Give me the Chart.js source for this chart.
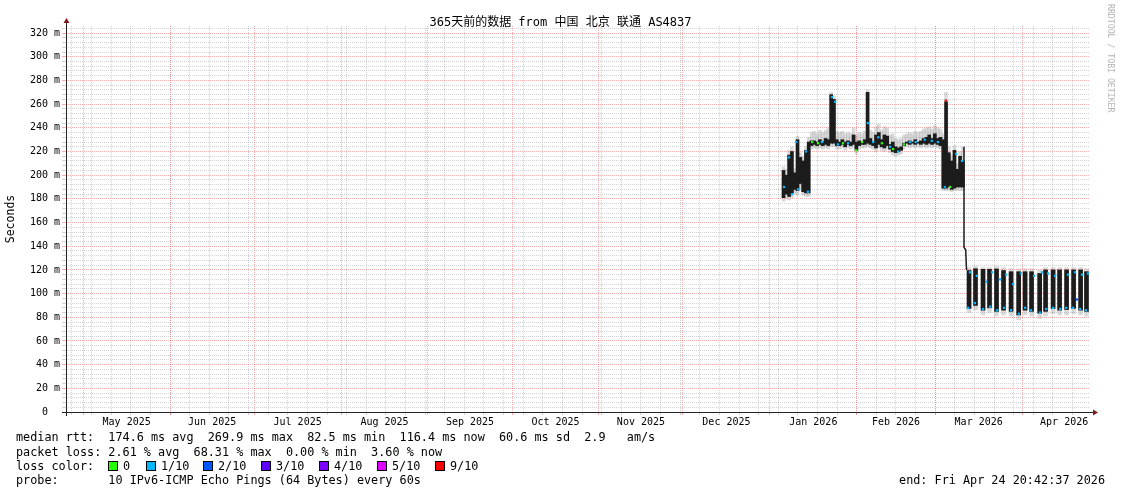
<!DOCTYPE html>
<html>
<head>
<meta charset="utf-8">
<script src="https://cdn.jsdelivr.net/npm/chart.js@4/dist/chart.umd.min.js"></script>
<style>
  body { margin: 0; background: #fff; }
  #wrap { position: relative; width: 1121px; height: 494px; font-family: "DejaVu Sans Mono", monospace; color: #000; }
  #chart { position: absolute; left: 0; top: 0; }
  .txt { position: absolute; white-space: pre; font-size: 11.8px; line-height: 14px; }
  #title { position: absolute; left: 0; width: 1121px; top: 14px; text-align: center; font-size: 12px; line-height: 16px;
           font-family: "DejaVu Sans Mono", "Noto Sans CJK SC", monospace; white-space: pre; }
  #mark { position: absolute; left: 1106px; top: 4px; writing-mode: vertical-rl; font-size: 8.2px; color: #b4b4b4; white-space: pre; }
  .sq { position: absolute; width: 8px; height: 8px; border: 1px solid #000; }
</style>
</head>
<body>
<div id="wrap">
  <canvas id="chart" width="1121" height="494"></canvas>
  <div id="title">365天前的数据 from 中国 北京 联通 AS4837</div>
  <div id="mark">RRDTOOL / TOBI OETIKER</div>
  <div class="txt" style="left:16px;top:430px">median rtt:  174.6 ms avg  269.9 ms max  82.5 ms min  116.4 ms now  60.6 ms sd  2.9   am/s</div>
  <div class="txt" style="left:16px;top:445px">packet loss: 2.61 % avg  68.31 % max  0.00 % min  3.60 % now</div>
  <div class="txt" style="left:16px;top:459px">loss color:</div>
  <div id="lossLegend"></div>
  <div class="txt" style="left:16px;top:473px">probe:       10 IPv6-ICMP Echo Pings (64 Bytes) every 60s</div>
  <div class="txt" style="right:16px;top:473px">end: Fri Apr 24 20:42:37 2026</div>
</div>
<script>
// x values are days since the graph start (Fri Apr 24 2025 20:42:37), 365 days shown
const graphStart = Date.UTC(2025, 3, 24, 20, 42, 37);
const graphDays = 365;
const monthLabels = ['May 2025', 'Jun 2025', 'Jul 2025', 'Aug 2025', 'Sep 2025', 'Oct 2025',
  'Nov 2025', 'Dec 2025', 'Jan 2026', 'Feb 2026', 'Mar 2026', 'Apr 2026'];
const monthStarts = ['2025-05-01', '2025-06-01', '2025-07-01', '2025-08-01', '2025-09-01', '2025-10-01',
  '2025-11-01', '2025-12-01', '2026-01-01', '2026-02-01', '2026-03-01', '2026-04-01', '2026-05-01'];
const firstSunday = '2025-04-27';

// Jan - mid Mar 2026: one bar per day (ms)
const phase1Day = [256, 257, 258, 259, 260, 261, 262, 263, 264, 265, 266, 267, 268, 269, 270, 271, 272, 273, 274, 275,
  276, 277, 278, 279, 280, 281, 282, 283, 284, 285, 286, 287, 288, 289, 290, 291, 292, 293, 294, 295,
  296, 297, 298, 299, 300, 301, 302, 303, 304, 305, 306, 307, 308, 309, 310, 311, 312, 313, 314, 315,
  316, 317, 318, 319, 320];
const phase1Low = [181, 184, 182, 185, 188, 187, 193, 186, 185, 185, 225, 226, 225, 226, 225, 226, 225, 227, 227, 225,
  225, 226, 224, 226, 225, 226, 221, 225, 226, 226, 227, 226, 225, 223, 226, 224, 223, 225, 222, 220,
  219, 220, 221, 225, 227, 226, 227, 226, 227, 226, 227, 226, 227, 226, 227, 226, 225, 189, 189, 190,
  188, 189, 190, 190, 190];
const phase1High = [204, 200, 217, 220, 202, 230, 215, 212, 221, 228, 229, 229, 228, 230, 228, 231, 230, 268, 264, 230,
  228, 230, 228, 229, 228, 234, 228, 229, 228, 230, 270, 231, 228, 234, 236, 230, 234, 233, 226, 228,
  224, 223, 224, 227, 228, 229, 228, 230, 228, 229, 231, 232, 234, 231, 235, 231, 232, 230, 262, 219,
  212, 221, 205, 216, 212];
const phase1SmokeLow = [178, 180, 179, 181, 184, 183, 188, 183, 182, 182, 222, 223, 222, 223, 222, 223, 222, 224, 224, 222,
  222, 223, 221, 223, 222, 223, 218, 222, 223, 223, 224, 223, 222, 220, 223, 221, 220, 222, 219, 217,
  216, 217, 218, 222, 224, 223, 224, 223, 224, 223, 224, 223, 224, 223, 224, 223, 222, 187, 187, 187,
  186, 187, 187, 187, 187];
const phase1SmokeHigh = [207, 205, 221, 224, 206, 233, 219, 216, 224, 232, 236, 237, 235, 238, 236, 238, 240, 270, 267, 237,
  236, 237, 235, 236, 235, 240, 234, 236, 235, 237, 272, 238, 236, 241, 243, 238, 241, 240, 234, 235,
  231, 230, 231, 234, 235, 236, 235, 237, 236, 237, 239, 240, 241, 239, 242, 240, 239, 235, 270, 224,
  217, 225, 210, 220, 224];

// the drop in mid March
const dropDay = [320.4, 320.4, 321.0, 321.3];
const dropRtt = [224, 139, 137, 120];

// mid Mar - Apr 2026: separate bars
const phase2Day = [322.2, 324.5, 327.2, 329.5, 332.0, 334.5, 337.2, 339.9, 342.2, 344.5, 347.4, 349.5, 352.2, 354.5,
  357.0, 359.5, 362.0, 364.1];
const phase2Low = [87.5, 90, 86, 88, 85, 86, 85, 82, 86, 85, 83.5, 85, 87.5, 86, 86.5, 87.5, 86, 85];
const phase2High = [119.5, 121, 120.5, 120.5, 120.8, 119.5, 118.5, 118.5, 118.5, 118.5, 117, 120, 120, 120, 120, 120, 120, 118.5];
const phase2SmokeLow = [84, 86, 82, 84, 81, 82, 81, 78, 82, 81, 79, 81, 83, 82, 82, 83, 82, 81];
const phase2SmokeHigh = [122, 123, 122, 122, 123, 122, 121, 121, 121, 121, 120, 122, 122, 122, 122, 122, 122, 121];

// median rtt markers coloured by loss (tenths of pings lost)
const medianDay = [256.2, 258.0, 259.0, 260.5, 261.2, 264.0, 264.7, 266.2, 268.3, 269.7, 273.3, 274.4, 275.4, 277.2, 279.0,
  281.9, 284.0, 286.1, 288.0, 289.8, 291.1, 294.0, 295.1, 296.9, 299.0, 301.1, 303.2, 306.4, 308.9, 311.1,
  313.6, 313.9, 315.4, 317.6, 319.7,
  321.8, 322.5, 324.3, 325.0, 327.2, 328.3, 329.7, 330.4, 332.2, 333.2, 334.7, 335.4, 337.2, 337.9, 340.0,
  340.7, 342.2, 344.3, 345.4, 347.5, 348.2, 349.7, 350.4, 352.2, 352.9, 354.7, 356.8, 357.5, 359.3, 360.0,
  360.7, 361.8, 362.5, 363.9, 364.6];
const medianRtt = [190, 215, 184, 228, 188, 220, 186, 228, 227, 228, 266, 262, 226, 227, 227,
  221, 228, 244, 228, 232, 227, 224, 222, 220, 226, 228, 228, 230, 229, 228,
  190, 263, 190, 218, 212,
  88, 118, 92, 115, 87, 110, 89, 118, 86, 112, 88, 116, 86, 108, 83,
  117, 88, 86, 115, 84, 118, 87, 117, 88, 115, 87, 88, 116, 88, 118,
  95, 87, 116, 86, 117];
const medianLoss = [1, 1, 1, 1, 1, 1, 1, 0, 0, 1, 1, 1, 1, 0, 1,
  0, 0, 1, 1, 1, 0, 1, 0, 1, 0, 1, 1, 1, 1, 1,
  1, 9, 0, 1, 1,
  1, 1, 1, 1, 1, 1, 1, 1, 1, 1, 1, 1, 1, 1, 1,
  1, 1, 1, 1, 1, 1, 1, 1, 1, 1, 1, 1, 1, 1, 1,
  2, 1, 1, 1, 1];

const lossLevels = [0, 1, 2, 3, 4, 5, 9];
const lossLabels = ['0', '1/10', '2/10', '3/10', '4/10', '5/10', '9/10'];
const lossColors = ['#26ff00', '#00b8ff', '#0059ff', '#5e00ff', '#7e00ff', '#dd00ff', '#ff0000'];

// ---- axis helpers ----
const DAY = 864e5;
const dayOf = s => (Date.parse(s + 'T00:00:00Z') - graphStart) / DAY;
const monthDays = monthStarts.map(dayOf);
const xTicks = [];
for (let d = dayOf(firstSunday); d < graphDays; d += 7) xTicks.push({ value: d, kind: 'week' });
monthDays.forEach(d => { if (d < graphDays) xTicks.push({ value: d, kind: 'month' }); });
monthLabels.forEach((lab, i) => {
  xTicks.push({ value: (monthDays[i] + monthDays[i + 1]) / 2, kind: 'label', text: lab });
});
xTicks.sort((a, b) => a.value - b.value);

const yTicks = [];
for (let v = 0; v <= 324; v += 4) yTicks.push({ value: v });

const minorGrid = 'rgba(150,150,150,0.42)';
const majorGrid = 'rgba(255,90,90,0.5)';
const noGrid = 'rgba(0,0,0,0)';
const axisFont = { family: 'DejaVu Sans Mono', size: 10 };
const xGridColor = c => !c.tick ? noGrid : (c.tick.kind === 'month' ? majorGrid : (c.tick.kind === 'week' ? minorGrid : noGrid));
const yGridColor = c => c.tick && c.tick.value % 20 === 0 ? majorGrid : minorGrid;

const toPts = (xs, lo, hi) => xs.map((x, i) => ({ x: x, y: [lo[i], hi[i]] }));

// axis lines with arrow heads, the rrdtool way
const axisArrows = {
  id: 'axisArrows',
  afterDraw(chart) {
    const { ctx, chartArea: a } = chart;
    const x0 = Math.round(a.left) + 0.5, y0 = Math.round(a.bottom) + 0.5;
    ctx.save();
    ctx.strokeStyle = '#222';
    ctx.lineWidth = 1;
    ctx.beginPath();
    ctx.moveTo(a.left - 4, y0); ctx.lineTo(a.right + 6, y0);
    ctx.moveTo(x0, a.bottom + 4); ctx.lineTo(x0, a.top - 5);
    ctx.stroke();
    ctx.fillStyle = '#7f1a1a';
    ctx.beginPath();
    ctx.moveTo(a.right + 9, y0); ctx.lineTo(a.right + 4, y0 - 3); ctx.lineTo(a.right + 4, y0 + 3); ctx.closePath();
    ctx.fill();
    ctx.beginPath();
    ctx.moveTo(x0, a.top - 8); ctx.lineTo(x0 - 3, a.top - 3); ctx.lineTo(x0 + 3, a.top - 3); ctx.closePath();
    ctx.fill();
    ctx.restore();
  }
};

new Chart(document.getElementById('chart'), {
  type: 'bar',
  data: {
    datasets: [{
      label: 'smoke',
      data: toPts(phase1Day, phase1SmokeLow, phase1SmokeHigh),
      backgroundColor: 'rgba(150,150,150,0.35)',
      barThickness: 3, grouped: false, order: 5
    }, {
      label: 'smoke2',
      data: toPts(phase2Day, phase2SmokeLow, phase2SmokeHigh),
      backgroundColor: 'rgba(150,150,150,0.35)',
      barThickness: 4, grouped: false, order: 5
    }, {
      label: 'rtt',
      data: toPts(phase1Day, phase1Low, phase1High),
      backgroundColor: '#1c1c1c',
      barThickness: 3, grouped: false, order: 4
    }, {
      label: 'rtt2',
      data: toPts(phase2Day, phase2Low, phase2High),
      backgroundColor: '#1c1c1c',
      barThickness: 4, grouped: false, order: 4
    }, {
      type: 'line',
      label: 'drop',
      data: dropDay.map((x, i) => ({ x: x, y: dropRtt[i] })),
      borderColor: '#1c1c1c', borderWidth: 1.5, pointRadius: 0, order: 3
    }, {
      type: 'line',
      label: 'median',
      data: medianDay.map((x, i) => ({ x: x, y: medianRtt[i] })),
      showLine: false,
      pointStyle: 'rect', pointRadius: 1.6, pointBorderWidth: 0,
      pointBackgroundColor: medianLoss.map(l => lossColors[lossLevels.indexOf(l)]),
      order: 1
    }]
  },
  options: {
    responsive: false,
    animation: false,
    layout: { padding: { top: 26, right: 32, left: 0, bottom: 0 } },
    plugins: { legend: { display: false }, tooltip: { enabled: false } },
    scales: {
      x: {
        type: 'linear', min: 0, max: graphDays, offset: false,
        afterFit(s) { s.height = 82; },
        afterBuildTicks(s) { s.ticks = xTicks.map(t => Object.assign({}, t)); },
        ticks: {
          autoSkip: false, maxRotation: 0, padding: 1, font: axisFont, color: '#000',
          callback: (v, i, ticks) => ticks[i].kind === 'label' ? ticks[i].text : ''
        },
        grid: { offset: false, tickLength: 3, lineWidth: 1, color: xGridColor, tickColor: xGridColor },
        border: { display: false, dash: [1, 1] }
      },
      y: {
        min: 0, max: 326,
        afterFit(s) { s.width = 66; },
        afterBuildTicks(s) { s.ticks = yTicks.map(t => Object.assign({}, t)); },
        ticks: {
          padding: 2, font: axisFont, color: '#000', autoSkip: false,
          callback: v => v % 20 === 0 ? (v === 0 ? '0  ' : v + ' m') : ''
        },
        grid: { tickLength: 4, lineWidth: 1, color: yGridColor, tickColor: yGridColor },
        border: { display: false, dash: [1, 1] },
        title: { display: true, text: 'Seconds', color: '#000', font: { family: 'DejaVu Sans Mono', size: 11.5 }, padding: { top: 4, bottom: 0 } }
      }
    }
  },
  plugins: [axisArrows]
});

// loss colour legend (positions in the footer row)
const legendX = [108, 146, 203, 261, 319, 377, 435];
const legendBox = document.getElementById('lossLegend');
lossLabels.forEach((lab, i) => {
  const sq = document.createElement('div');
  sq.className = 'sq';
  sq.style.left = legendX[i] + 'px';
  sq.style.top = '461px';
  sq.style.background = lossColors[i];
  legendBox.appendChild(sq);
  const t = document.createElement('div');
  t.className = 'txt';
  t.style.left = (legendX[i] + 15) + 'px';
  t.style.top = '459px';
  t.textContent = lab;
  legendBox.appendChild(t);
});
</script>
</body>
</html>
